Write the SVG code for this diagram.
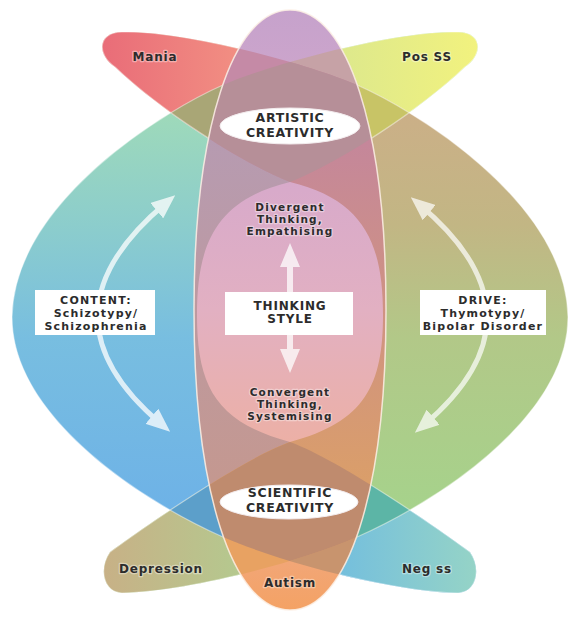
<svg xmlns="http://www.w3.org/2000/svg" width="568" height="622" viewBox="0 0 568 622">
<defs>
<style>
.t{font-family:"DejaVu Sans","Verdana",sans-serif;font-weight:bold;fill:#2c2c2c;text-anchor:middle}
.halo{paint-order:stroke;stroke:#ffffff;stroke-opacity:0.4;stroke-width:2.5;stroke-linejoin:round}
.box{fill:#ffffff}
.oval{fill:#ffffff;stroke:#f3ecee;stroke-width:1}
.edge{fill:none;stroke:#ffffff;stroke-opacity:0.45;stroke-width:1.2}
.arrow{fill:none;stroke:#ffffff;marker-start:url(#head);marker-end:url(#head)}
</style>
<path id="pA" d="M458,32 C400,30 276,62 223,85 C170,108 14,200 12,317 C12,420 150,505 223,537 C290,566 400,592 458,593 C476,592 482,570 470,552 C440,530 340,460 290,442 C215,422 197,385 197,315 C197,245 215,200 290,182 C340,162 420,110 465,67 C484,54 482,32 458,32 Z"/>
<path id="pB" d="M122,32 C180,30 304,62 357,85 C410,108 566,200 568,317 C568,420 430,505 357,537 C290,566 180,592 122,593 C104,592 98,570 110,552 C140,530 240,460 290,442 C365,422 383,385 383,315 C383,245 365,200 290,182 C240,162 160,110 115,67 C96,54 98,32 122,32 Z"/>
<path id="pE" d="M290,10 C348,10 386,130 386,310 C386,490 348,610 290,610 C232,610 194,490 194,310 C194,130 232,10 290,10 Z"/>
<clipPath id="cA"><use href="#pA"/></clipPath>
<clipPath id="cB"><use href="#pB"/></clipPath>
<clipPath id="cE"><use href="#pE"/></clipPath>
<linearGradient id="gBlue" gradientUnits="userSpaceOnUse" x1="0" y1="90" x2="0" y2="540">
<stop offset="0" stop-color="#a2dcb6"/><stop offset="0.3" stop-color="#8ccdcc"/><stop offset="0.55" stop-color="#78bee0"/><stop offset="1" stop-color="#6cb0e8"/>
</linearGradient>
<linearGradient id="gGreen" gradientUnits="userSpaceOnUse" x1="0" y1="90" x2="0" y2="540">
<stop offset="0" stop-color="#cdae88"/><stop offset="0.3" stop-color="#c2b684"/><stop offset="0.55" stop-color="#b2c888"/><stop offset="1" stop-color="#a4d48c"/>
</linearGradient>
<linearGradient id="gMania" gradientUnits="userSpaceOnUse" x1="100" y1="0" x2="260" y2="0">
<stop offset="0" stop-color="#e96c78"/><stop offset="1" stop-color="#f39484"/>
</linearGradient>
<linearGradient id="gPos" gradientUnits="userSpaceOnUse" x1="320" y1="0" x2="480" y2="0">
<stop offset="0" stop-color="#dae78e"/><stop offset="1" stop-color="#f2f27e"/>
</linearGradient>
<linearGradient id="gDep" gradientUnits="userSpaceOnUse" x1="100" y1="0" x2="260" y2="0">
<stop offset="0" stop-color="#c8b086"/><stop offset="1" stop-color="#b2cc90"/>
</linearGradient>
<linearGradient id="gNeg" gradientUnits="userSpaceOnUse" x1="320" y1="0" x2="480" y2="0">
<stop offset="0" stop-color="#70bce0"/><stop offset="1" stop-color="#96d4c6"/>
</linearGradient>
<linearGradient id="gE" gradientUnits="userSpaceOnUse" x1="0" y1="10" x2="0" y2="610">
<stop offset="0" stop-color="#c6a2cc"/><stop offset="0.3" stop-color="#d8aaca"/><stop offset="0.5" stop-color="#e2b0c2"/><stop offset="0.72" stop-color="#ecb0a6"/><stop offset="1" stop-color="#f4a264"/>
</linearGradient>
<linearGradient id="gAin" gradientUnits="userSpaceOnUse" x1="0" y1="130" x2="0" y2="480">
<stop offset="0" stop-color="#b69bb2"/><stop offset="1" stop-color="#c49890"/>
</linearGradient>
<linearGradient id="gBin" gradientUnits="userSpaceOnUse" x1="0" y1="130" x2="0" y2="480">
<stop offset="0" stop-color="#c4869c"/><stop offset="1" stop-color="#da9e6a"/>
</linearGradient>
<marker id="head" viewBox="0 0 24 20" refX="12" refY="10" markerWidth="24" markerHeight="20" markerUnits="userSpaceOnUse" orient="auto-start-reverse">
<path d="M0,0 L24,10 L0,20 Z" fill="#ffffff"/>
</marker>
</defs>
<rect width="568" height="622" fill="#ffffff"/>

<g id="content-lobe">
<use href="#pA" fill="url(#gBlue)"/>
<g clip-path="url(#cA)">
<rect id="pos-ss-petal" x="290" y="0" width="278" height="250" fill="url(#gPos)"/>
<rect id="neg-ss-petal" x="290" y="400" width="278" height="222" fill="url(#gNeg)"/>
</g>
</g>
<g id="drive-lobe">
<use href="#pB" fill="url(#gGreen)"/>
<g clip-path="url(#cB)">
<rect id="mania-petal" x="0" y="0" width="290" height="250" fill="url(#gMania)"/>
<rect id="depression-petal" x="0" y="400" width="290" height="222" fill="url(#gDep)"/>
</g>
</g>
<g id="lobe-overlaps" clip-path="url(#cA)">
<g clip-path="url(#cB)">
<rect x="0" y="0" width="290" height="250" fill="#a9a676"/>
<rect x="290" y="0" width="278" height="250" fill="#c8c466"/>
<rect x="0" y="400" width="290" height="222" fill="#5c9fca"/>
<rect x="290" y="400" width="278" height="222" fill="#5cb5a6"/>
</g>
</g>
<use href="#pA" class="edge"/>
<use href="#pB" class="edge"/>

<g id="thinking-lens">
<g clip-path="url(#cE)">
<rect x="190" y="0" width="200" height="622" fill="url(#gE)"/>
<g clip-path="url(#cA)">
<rect x="190" y="0" width="100" height="622" fill="url(#gAin)"/>
<rect x="290" y="0" width="100" height="310" fill="#c6a2a6"/>
<rect x="290" y="310" width="100" height="312" fill="#c8946e"/>
</g>
<g clip-path="url(#cB)">
<rect x="290" y="0" width="100" height="622" fill="url(#gBin)"/>
<rect x="190" y="0" width="100" height="310" fill="#c58aa6"/>
<rect x="190" y="310" width="100" height="312" fill="#e8a262"/>
</g>
<g clip-path="url(#cA)">
<g clip-path="url(#cB)">
<rect x="190" y="0" width="200" height="310" fill="#b68f98"/>
<rect x="190" y="310" width="200" height="312" fill="#bf8b6e"/>
</g>
</g>
</g>
<use href="#pE" fill="none" stroke="#fbeee4" stroke-width="1.5" stroke-opacity="0.85"/>
</g>

<g id="connectors">
<g opacity="0.75">
<path class="arrow" stroke-width="5" d="M166,203 Q32,315 161,424"/>
</g>
<g opacity="0.7">
<path class="arrow" stroke-width="5" d="M420,205 Q552,316 424,425"/>
</g>
<g opacity="0.75">
<path class="arrow" stroke-width="6" d="M290,255 L290,361"/>
</g>
</g>

<g id="mania"><text class="t halo" x="155" y="61" font-size="12" letter-spacing="0.8">Mania</text></g>
<g id="pos-ss"><text class="t halo" x="427" y="61" font-size="12" letter-spacing="0.8">Pos SS</text></g>
<g id="depression"><text class="t halo" x="161" y="573" font-size="12" letter-spacing="0.8">Depression</text></g>
<g id="neg-ss"><text class="t halo" x="427" y="573" font-size="12" letter-spacing="0.8">Neg ss</text></g>
<g id="autism"><text class="t halo" x="290" y="587" font-size="12" letter-spacing="0.8">Autism</text></g>

<g id="artistic-creativity">
<ellipse class="oval" cx="290" cy="126" rx="70" ry="18"/>
<text class="t" x="290" y="122" font-size="12.5" letter-spacing="0.7">ARTISTIC</text>
<text class="t" x="290" y="137" font-size="12.5" letter-spacing="0.7">CREATIVITY</text>
</g>
<g id="scientific-creativity">
<ellipse class="oval" cx="289" cy="502" rx="69" ry="17"/>
<text class="t" x="290" y="497" font-size="12.5" letter-spacing="0.7">SCIENTIFIC</text>
<text class="t" x="290" y="512" font-size="12.5" letter-spacing="0.7">CREATIVITY</text>
</g>
<g id="divergent">
<text class="t halo" x="290" y="211" font-size="10.5" letter-spacing="1.2">Divergent</text>
<text class="t halo" x="290" y="223" font-size="10.5" letter-spacing="1.2">Thinking,</text>
<text class="t halo" x="290" y="235" font-size="10.5" letter-spacing="1.2">Empathising</text>
</g>
<g id="convergent">
<text class="t halo" x="290" y="396" font-size="10.5" letter-spacing="1.2">Convergent</text>
<text class="t halo" x="290" y="408" font-size="10.5" letter-spacing="1.2">Thinking,</text>
<text class="t halo" x="290" y="420" font-size="10.5" letter-spacing="1.2">Systemising</text>
</g>
<g id="thinking-style">
<rect class="box" x="225" y="292" width="128" height="43"/>
<text class="t" x="290" y="310" font-size="12" letter-spacing="0.8">THINKING</text>
<text class="t" x="290" y="323" font-size="12" letter-spacing="0.8">STYLE</text>
</g>
<g id="content">
<rect class="box" x="35" y="290" width="120" height="45"/>
<text class="t" x="96" y="304" font-size="11" letter-spacing="1.2">CONTENT:</text>
<text class="t" x="96" y="317" font-size="11" letter-spacing="1.2">Schizotypy/</text>
<text class="t" x="96" y="330" font-size="11" letter-spacing="1.2">Schizophrenia</text>
</g>
<g id="drive">
<rect class="box" x="420" y="290" width="126" height="45"/>
<text class="t" x="483" y="304" font-size="11" letter-spacing="1.2">DRIVE:</text>
<text class="t" x="483" y="317" font-size="11" letter-spacing="1.2">Thymotypy/</text>
<text class="t" x="483" y="330" font-size="11" letter-spacing="1.2">Bipolar Disorder</text>
</g>
</svg>
